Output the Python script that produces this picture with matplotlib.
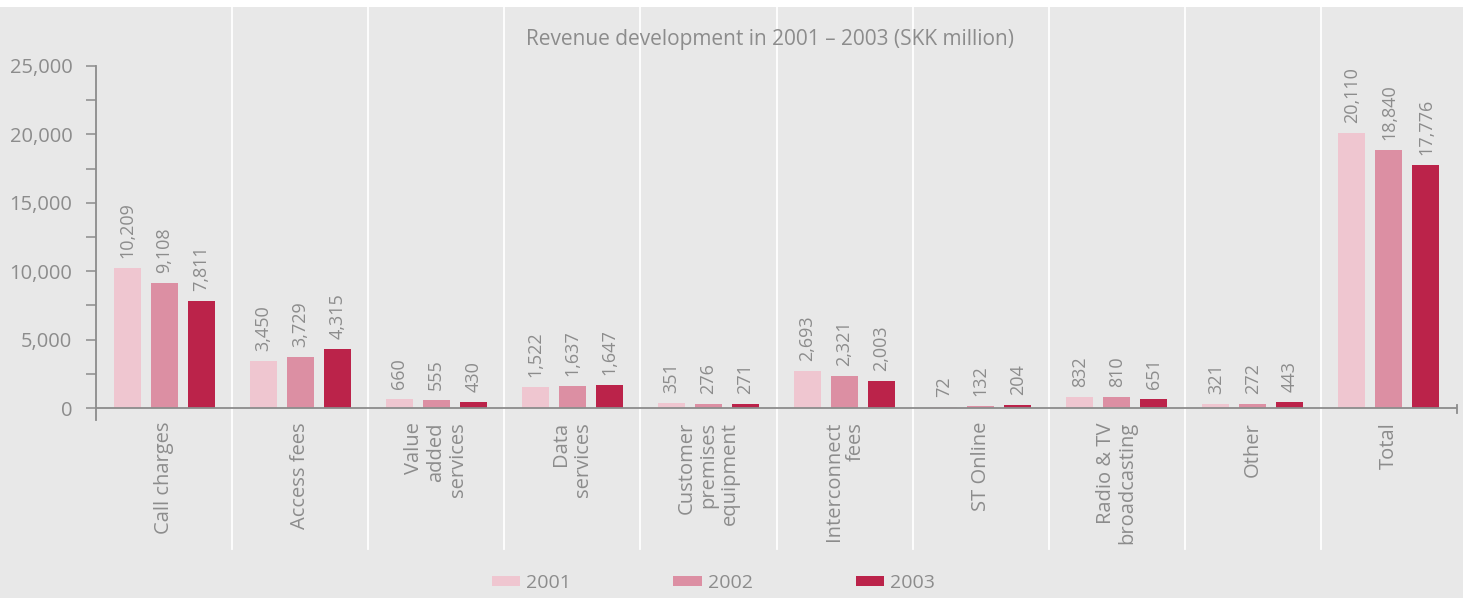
import matplotlib
matplotlib.use("Agg")
import matplotlib.pyplot as plt
import matplotlib.transforms as mtransforms
from matplotlib.patches import Patch, Rectangle
import numpy as np

plt.rcParams['font.family'] = ['Open Sans', 'DejaVu Sans']

categories = ["Call charges", "Access fees", "Value\nadded\nservices", "Data\nservices",
              "Customer\npremises\nequipment", "Interconnect\nfees", "ST Online",
              "Radio & TV\nbroadcasting", "Other", "Total"]
years = ["2001", "2002", "2003"]
rev_2001 = [10209, 3450, 660, 1522, 351, 2693, 72, 832, 321, 20110]
rev_2002 = [9108, 3729, 555, 1637, 276, 2321, 132, 810, 272, 18840]
rev_2003 = [7811, 4315, 430, 1647, 271, 2003, 204, 651, 443, 17776]
yticks = [0, 5000, 10000, 15000, 20000, 25000]
title = "Revenue development in 2001 \u2013 2003 (SKK million)"

colors = ["#efc6d0", "#dc8fa3", "#bb234a"]
bg = "#e8e8e8"
txt = "#8c8c8c"

W, H = 1463, 598
fig = plt.figure(figsize=(W / 100, H / 100), dpi=100, facecolor=bg)

# axes placed in pixel units: y=0 at 408px, 25,000 at 66px
px_per_unit = (408 - 66) / 25000
ymin = -850
y_bottom_px = 408 + (-ymin) * px_per_unit
left, right = 96, 1457
ax = fig.add_axes([left / W, 1 - y_bottom_px / H, (right - left) / W,
                   (y_bottom_px - 66) / H])
ax.set_facecolor(bg)
ax.set_xlim(-0.5, len(categories) - 0.5)
ax.set_ylim(ymin, 25000)

# white band along the top edge
fig.add_artist(Rectangle((0, 1 - 7 / H), 1, 7 / H, transform=fig.transFigure,
                         facecolor="white", edgecolor="none", zorder=0))

# white separators between categories
trans = mtransforms.blended_transform_factory(ax.transData, fig.transFigure)
for b in np.arange(0.5, len(categories) - 0.5, 1.0):
    ax.plot([b, b], [1 - 549 / H, 1 - 7 / H], transform=trans, color="white",
            lw=1.3, clip_on=False, zorder=0.5)

x = np.arange(len(categories))
step = 0.272
width = 0.198
series = [rev_2001, rev_2002, rev_2003]
for k, (vals, c) in enumerate(zip(series, colors)):
    xs = x + (k - 1) * step
    ax.bar(xs, vals, width=width, color=c, zorder=2)
    for xi, v in zip(xs, vals):
        ax.annotate(f"{v:,}", (xi, v), xytext=(0, 10), textcoords="offset pixels",
                    rotation=90, ha="center", va="bottom", color=txt, fontsize=13)

# spines and ticks
for s in ["top", "right", "bottom"]:
    ax.spines[s].set_visible(False)
ax.spines["left"].set_color(txt)
ax.spines["left"].set_linewidth(1.3)
ax.axhline(0, color=txt, lw=1.3, zorder=3)
ax.plot([len(categories) - 0.5] * 2, [-350, 250], color=txt, lw=1.3, clip_on=False)

ax.set_yticks(yticks)
ax.set_yticklabels([f"{t:,}" for t in yticks])
ax.set_yticks(np.arange(2500, 25000, 5000), minor=True)
ax.tick_params(axis="y", which="both", direction="out", length=7, width=1.1,
               color=txt, labelcolor=txt, labelsize=14.5, pad=10)
ax.set_xticks([])

for xi, lab in zip(x, categories):
    ax.annotate(lab, (xi, 0), xytext=(0, -14), textcoords="offset pixels",
                rotation=90, ha="center", va="top", multialignment="right",
                color=txt, fontsize=14.5, linespacing=1.12, annotation_clip=False)

fig.text(770 / W, 1 - 39 / H, title, ha="center", va="center", color=txt, fontsize=15)

handles = [Patch(facecolor=c, edgecolor="none") for c in colors]
fig.legend(handles, years, loc="center", bbox_to_anchor=(713 / W, 1 - 583 / H), ncol=3,
           frameon=False, fontsize=14, handlelength=1.45, handleheight=0.45,
           handletextpad=0.3, columnspacing=5.3, labelcolor=txt)

fig.savefig("out.png", dpi=100, facecolor=bg)
